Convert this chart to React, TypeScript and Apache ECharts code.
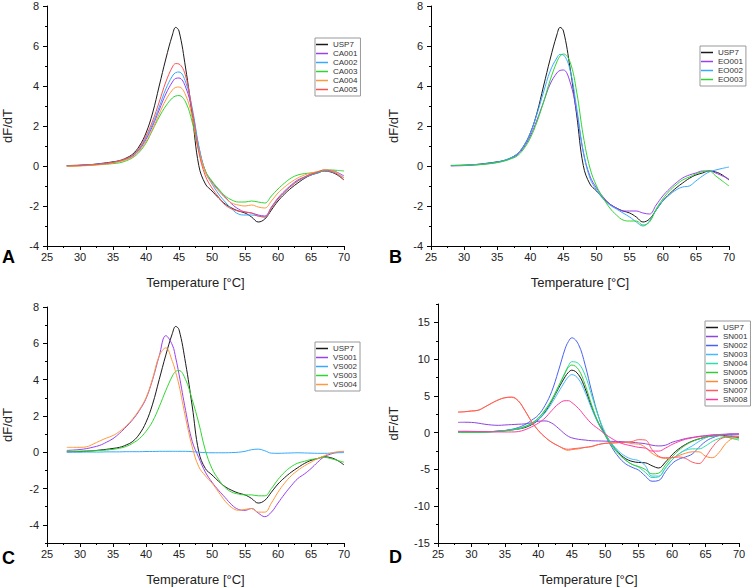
import React, { useEffect, useRef } from "react";
import * as echarts from "echarts";

// Temperatures (°C) shared by every curve
const TEMPS = [28, 29, 30, 31, 32, 33, 34, 35, 36, 37, 38, 39, 40, 41, 42, 43, 44, 44.5, 45, 46, 47, 48, 49, 50, 51, 52, 53, 54, 55, 56, 57, 58, 59, 60, 61, 62, 63, 64, 65, 66, 67, 68, 69, 70];

// Panel A/B/C reference
const USP7 = [0.02, 0.03, 0.04, 0.06, 0.08, 0.12, 0.16, 0.21, 0.27, 0.4, 0.6, 1.0, 1.65, 2.65, 4.0, 5.35, 6.55, 6.93, 6.75, 4.9, 2.55, 0.02, -0.9, -1.25, -1.6, -1.9, -2.1, -2.25, -2.35, -2.55, -2.8, -2.65, -2.2, -1.75, -1.4, -1.1, -0.85, -0.62, -0.45, -0.35, -0.25, -0.3, -0.45, -0.7];

// Panel A
const CA001 = [0.02, 0.02, 0.03, 0.05, 0.07, 0.1, 0.13, 0.18, 0.24, 0.34, 0.5, 0.82, 1.33, 2.0, 2.8, 3.6, 4.2, 4.38, 4.4, 3.95, 2.75, 0.95, -0.25, -0.8, -1.2, -1.55, -1.9, -2.15, -2.3, -2.35, -2.45, -2.5, -2.05, -1.6, -1.25, -0.95, -0.7, -0.55, -0.4, -0.3, -0.22, -0.22, -0.32, -0.5];
const CA002 = [0.02, 0.02, 0.03, 0.05, 0.07, 0.1, 0.13, 0.18, 0.25, 0.35, 0.52, 0.85, 1.4, 2.1, 2.95, 3.85, 4.5, 4.67, 4.7, 4.2, 2.9, 1.0, -0.3, -0.9, -1.4, -1.8, -2.15, -2.4, -2.45, -2.45, -2.5, -2.55, -2.1, -1.65, -1.3, -1.0, -0.75, -0.58, -0.45, -0.35, -0.25, -0.28, -0.4, -0.6];
const CA003 = [0.0, 0.01, 0.02, 0.03, 0.05, 0.07, 0.09, 0.12, 0.16, 0.26, 0.42, 0.7, 1.15, 1.8, 2.45, 3.0, 3.4, 3.5, 3.52, 3.2, 2.2, 0.75, -0.25, -0.75, -1.15, -1.5, -1.7, -1.8, -1.8, -1.75, -1.8, -1.85, -1.5, -1.15, -0.85, -0.6, -0.45, -0.38, -0.35, -0.3, -0.22, -0.2, -0.22, -0.25];
const CA004 = [-0.02, -0.01, 0.0, 0.02, 0.04, 0.07, 0.1, 0.15, 0.22, 0.31, 0.45, 0.75, 1.22, 1.85, 2.6, 3.3, 3.8, 3.93, 3.95, 3.55, 2.45, 0.8, -0.3, -0.85, -1.25, -1.6, -1.85, -1.95, -2.0, -1.95, -2.05, -2.1, -1.75, -1.35, -1.05, -0.8, -0.6, -0.45, -0.35, -0.28, -0.2, -0.22, -0.35, -0.6];
const CA005 = [0.0, 0.01, 0.02, 0.04, 0.06, 0.09, 0.13, 0.18, 0.26, 0.37, 0.55, 0.9, 1.5, 2.25, 3.2, 4.2, 4.95, 5.12, 5.1, 4.5, 2.75, 0.7, -0.5, -1.1, -1.55, -1.95, -2.15, -2.25, -2.3, -2.35, -2.5, -2.55, -2.1, -1.65, -1.3, -1.0, -0.75, -0.55, -0.42, -0.3, -0.2, -0.25, -0.42, -0.7];

// Panel B
const EO001 = [0.0, 0.01, 0.02, 0.04, 0.06, 0.09, 0.13, 0.18, 0.26, 0.37, 0.55, 0.92, 1.5, 2.3, 3.2, 4.1, 4.65, 4.78, 4.8, 4.2, 2.7, 0.7, -0.5, -1.1, -1.55, -1.9, -2.1, -2.25, -2.25, -2.25, -2.35, -2.4, -1.95, -1.5, -1.15, -0.85, -0.6, -0.45, -0.35, -0.25, -0.25, -0.35, -0.5, -0.65];
const EO002 = [0.03, 0.03, 0.04, 0.06, 0.08, 0.11, 0.15, 0.2, 0.28, 0.4, 0.6, 1.0, 1.65, 2.6, 3.7, 4.75, 5.4, 5.58, 5.55, 4.8, 2.9, 0.7, -0.6, -1.2, -1.65, -1.95, -2.15, -2.35, -2.55, -2.8, -3.0, -2.75, -2.2, -1.75, -1.45, -1.2, -1.05, -1.0, -0.75, -0.5, -0.3, -0.2, -0.12, -0.05];
const EO003 = [0.03, 0.03, 0.03, 0.05, 0.06, 0.09, 0.12, 0.17, 0.24, 0.35, 0.5, 0.85, 1.4, 2.2, 3.2, 4.3, 5.2, 5.5, 5.6, 5.2, 3.7, 1.5, -0.1, -1.0, -1.6, -2.1, -2.45, -2.7, -2.75, -2.75, -2.95, -2.8, -2.15, -1.65, -1.25, -0.95, -0.7, -0.55, -0.4, -0.28, -0.25, -0.5, -0.75, -1.0];

// Panel C
const VS001 = [0.1, 0.12, 0.15, 0.2, 0.28, 0.38, 0.55, 0.75, 1.05, 1.4, 1.8, 2.3, 2.95, 4.0, 5.3, 6.42, 5.9, 5.2, 4.3, 2.3, 0.6, -0.3, -1.1, -1.65, -2.1, -2.5, -2.9, -3.15, -3.2, -3.1, -3.35, -3.55, -3.3, -2.8, -2.3, -1.85, -1.45, -1.2, -0.9, -0.55, -0.25, -0.1, 0.0, 0.02];
const VS002 = [0.0, 0.0, 0.0, 0.01, 0.01, 0.01, 0.02, 0.02, 0.02, 0.03, 0.03, 0.03, 0.04, 0.04, 0.05, 0.05, 0.05, 0.05, 0.05, 0.05, 0.03, 0.0, -0.02, -0.03, -0.03, -0.03, -0.02, 0.0, 0.05, 0.14, 0.17, 0.08, -0.05, -0.06, -0.05, -0.04, -0.03, -0.04, -0.05, -0.06, -0.06, -0.05, -0.03, -0.02];
const VS003 = [0.05, 0.05, 0.06, 0.07, 0.08, 0.1, 0.12, 0.16, 0.22, 0.32, 0.5, 0.75, 1.15, 1.7, 2.5, 3.4, 4.2, 4.45, 4.5, 4.0, 2.9, 1.6, 0.1, -0.9, -1.5, -1.95, -2.2, -2.3, -2.35, -2.35, -2.4, -2.4, -2.0, -1.5, -1.1, -0.8, -0.6, -0.5, -0.4, -0.35, -0.28, -0.35, -0.45, -0.55];
const VS004 = [0.27, 0.27, 0.27, 0.3, 0.45, 0.62, 0.78, 0.92, 1.15, 1.45, 1.85, 2.35, 3.0, 4.05, 5.3, 5.75, 5.0, 4.4, 3.7, 1.9, 0.3, -0.8, -1.3, -1.7, -2.2, -2.7, -3.05, -3.2, -3.15, -3.1, -3.3, -3.3, -2.8, -2.2, -1.7, -1.3, -1.0, -0.75, -0.55, -0.35, -0.2, -0.05, 0.02, 0.05];

// Panel D
const USP7_D = [0.1, 0.1, 0.1, 0.1, 0.12, 0.15, 0.2, 0.28, 0.4, 0.5, 0.7, 1.1, 1.75, 2.8, 4.3, 6.0, 7.6, 8.2, 8.5, 7.9, 6.0, 3.4, 1.3, -0.2, -1.6, -2.7, -3.5, -3.9, -4.05, -4.1, -4.5, -4.8, -4.0, -3.0, -2.2, -1.6, -1.15, -0.85, -0.6, -0.45, -0.35, -0.4, -0.55, -0.7];
const SN001 = [1.4, 1.42, 1.4, 1.3, 1.15, 1.05, 1.0, 1.05, 1.1, 1.15, 1.2, 1.35, 1.55, 1.6, 1.3, 0.6, -0.2, -0.5, -0.7, -0.9, -1.0, -1.1, -1.12, -1.15, -1.18, -1.2, -1.25, -1.3, -1.4, -1.5, -1.7, -1.8, -1.7, -1.3, -1.05, -0.8, -0.65, -0.5, -0.4, -0.3, -0.25, -0.2, -0.17, -0.15];
const SN002 = [0.1, 0.1, 0.1, 0.1, 0.12, 0.15, 0.22, 0.3, 0.45, 0.7, 1.1, 1.7, 2.4, 3.7, 5.6, 8.4, 11.4, 12.4, 12.9, 12.0, 9.2, 5.5, 2.2, -0.3, -2.0, -3.3, -4.2, -4.7, -5.1, -5.9, -6.6, -6.5, -5.3, -4.2, -3.6, -3.3, -2.9, -2.0, -1.2, -0.7, -0.4, -0.25, -0.2, -0.2];
const SN003 = [0.1, 0.1, 0.1, 0.1, 0.12, 0.15, 0.2, 0.27, 0.4, 0.55, 0.8, 1.2, 1.8, 2.7, 4.0, 5.5, 7.0, 7.6, 7.9, 7.3, 5.5, 3.2, 1.2, -0.3, -1.5, -2.5, -3.2, -3.6, -3.8, -4.5, -5.9, -5.9, -4.8, -3.7, -2.9, -2.3, -1.8, -1.2, -0.7, -0.4, -0.3, -0.3, -0.4, -0.5];
const SN004 = [0.05, 0.05, 0.06, 0.07, 0.09, 0.12, 0.17, 0.25, 0.35, 0.5, 0.8, 1.25, 1.95, 3.0, 4.4, 6.2, 8.2, 9.1, 9.65, 9.4, 7.8, 5.0, 2.2, 0.0, -1.6, -2.8, -3.7, -4.3, -4.7, -5.4, -6.1, -6.0, -4.8, -3.7, -2.9, -2.4, -2.2, -2.2, -1.8, -1.2, -0.8, -0.6, -0.7, -0.8];
const SN005 = [0.05, 0.05, 0.06, 0.07, 0.09, 0.12, 0.17, 0.26, 0.38, 0.55, 0.85, 1.3, 2.0, 3.1, 4.5, 6.3, 8.1, 8.9, 9.2, 8.6, 6.5, 3.7, 1.3, -0.4, -1.8, -2.9, -3.7, -4.3, -4.6, -5.0, -5.6, -5.5, -4.4, -3.3, -2.4, -1.7, -1.2, -0.85, -0.6, -0.45, -0.4, -0.55, -0.8, -1.0];
const SN006 = [2.8, 2.85, 2.95, 3.05, 3.5, 4.0, 4.45, 4.75, 4.8, 4.3, 3.0, 1.5, 0.3, -0.6, -1.3, -1.8, -2.3, -2.4, -2.3, -2.2, -2.0, -1.9, -1.6, -1.45, -1.4, -1.35, -1.3, -1.5, -1.55, -2.0, -2.8, -3.3, -3.5, -3.4, -3.1, -2.8, -2.6, -2.6, -3.2, -3.4, -2.7, -1.5, -0.8, -0.5];
const SN007 = [2.8, 2.85, 2.95, 3.05, 3.5, 4.0, 4.45, 4.75, 4.85, 4.35, 3.0, 1.5, 0.3, -0.6, -1.3, -1.8, -2.2, -2.25, -2.2, -2.1, -2.0, -1.85, -1.6, -1.45, -1.4, -1.35, -1.3, -1.2, -0.95, -1.0, -2.3, -3.2, -3.4, -3.4, -3.3, -3.5, -4.0, -4.2, -3.3, -2.0, -1.0, -0.6, -0.5, -0.5];
const SN008 = [0.2, 0.2, 0.18, 0.16, 0.15, 0.12, 0.1, 0.1, 0.1, 0.15, 0.4, 0.8, 1.3, 2.0, 3.0, 3.9, 4.35, 4.35, 4.1, 3.3, 2.2, 1.2, 0.5, -0.2, -0.8, -1.3, -1.6, -1.8, -2.0, -2.1, -2.5, -2.5, -2.1, -1.6, -1.2, -0.9, -0.7, -0.55, -0.45, -0.35, -0.3, -0.25, -0.2, -0.2];

const X_TICKS = [25, 30, 35, 40, 45, 50, 55, 60, 65, 70];
const Y_LABELS_C = [-4, -2, 0, 2, 4, 6, 8];
const Y_LABELS_D = [-15, -10, -5, 0, 5, 10, 15];

const FONT = "Liberation Sans, Arial, Helvetica, sans-serif";
const BLACK = "#1a1a1a";
const PURPLE = "#9a40f0";
const SKY = "#35aaff";
const GREEN = "#2fd62f";
const ORANGE = "#ff9a3c";
const RED = "#ff5050";

const PANELS = [
  { letter: "A", series: [["USP7", USP7, BLACK], ["CA001", CA001, PURPLE], ["CA002", CA002, SKY], ["CA003", CA003, GREEN], ["CA004", CA004, ORANGE], ["CA005", CA005, RED]] },
  { letter: "B", series: [["USP7", USP7, BLACK], ["EO001", EO001, PURPLE], ["EO002", EO002, SKY], ["EO003", EO003, GREEN]] },
  { letter: "C", series: [["USP7", USP7, BLACK], ["VS001", VS001, PURPLE], ["VS002", VS002, SKY], ["VS003", VS003, GREEN], ["VS004", VS004, ORANGE]] },
  { letter: "D", series: [["USP7", USP7_D, BLACK], ["SN001", SN001, "#8e44e0"], ["SN002", SN002, "#4a62f0"], ["SN003", SN003, "#45b8ff"], ["SN004", SN004, "#30dca8"], ["SN005", SN005, "#34cc34"], ["SN006", SN006, "#ff8a36"], ["SN007", SN007, "#ff5a66"], ["SN008", SN008, "#ff3a9e"]] },
];

const GRIDS = [
  { left: 47, top: 6, width: 297, height: 240 },
  { left: 431, top: 6, width: 298, height: 240 },
  { left: 47, top: 307, width: 297, height: 240 },
  { left: 438, top: 304, width: 301, height: 243 },
];
const LEGEND_POS = [
  { left: 315, top: 38 },
  { left: 700, top: 46 },
  { left: 315, top: 342 },
  { left: 705, top: 321 },
];
const LETTER_POS = [
  { x: 2, y: 257 },
  { x: 389, y: 257 },
  { x: 2, y: 558 },
  { x: 389, y: 557 },
];
const YNAME_GAP = [33, 31, 33, 38];

export default function App() {
  const ref = useRef<HTMLDivElement>(null);
  useEffect(() => {
    if (!ref.current) return;
    const chart = echarts.init(ref.current, undefined, { renderer: "svg" });
    const axisLine = { show: true, onZero: false, lineStyle: { color: "#000", width: 1 } };
    const label = { fontSize: 11, color: "#222", fontFamily: FONT };
    const xAxis: any[] = GRIDS.map((_, i) => ({
      type: "value", gridIndex: i, min: 25, max: 70, interval: 5,
      axisLine, axisTick: { show: true, length: 4, lineStyle: { color: "#000" } },
      minorTick: { show: true, splitNumber: 2, length: 2, lineStyle: { color: "#000" } },
      splitLine: { show: false }, minorSplitLine: { show: false },
      axisLabel: { ...label, margin: 5, customValues: X_TICKS },
      name: "Temperature [°C]", nameLocation: "middle", nameGap: 30,
      nameTextStyle: { fontSize: 13, color: "#222", fontFamily: FONT },
    }));
    const yBase = (i: number) => ({
      type: "value", gridIndex: i, position: "left", axisLine,
      splitLine: { show: false }, minorSplitLine: { show: false },
      name: "dF/dT", nameLocation: "middle", nameGap: YNAME_GAP[i],
      nameTextStyle: { fontSize: 13, color: "#222", fontFamily: FONT },
    });
    const minorY = (i: number, min: number, max: number, interval: number) => ({
      type: "value", gridIndex: i, position: "left", offset: 0, min, max, interval,
      axisLine: { show: false }, axisTick: { show: true, length: 2, lineStyle: { color: "#000" } },
      axisLabel: { show: false }, splitLine: { show: false },
    });
    const yAxis: any[] = [
      { ...yBase(0), min: -4, max: 8, interval: 2, axisTick: { length: 4, lineStyle: { color: "#000" } }, minorTick: { show: true, splitNumber: 2, length: 2, lineStyle: { color: "#000" } }, axisLabel: { ...label, margin: 8 } },
      { ...yBase(1), min: -4, max: 8, interval: 2, axisTick: { length: 4, lineStyle: { color: "#000" } }, minorTick: { show: true, splitNumber: 2, length: 2, lineStyle: { color: "#000" } }, axisLabel: { ...label, margin: 8 } },
      { ...yBase(2), min: -5, max: 8, interval: 1, axisTick: { length: 4, customValues: Y_LABELS_C, lineStyle: { color: "#000" } }, axisLabel: { ...label, margin: 8, customValues: Y_LABELS_C } },
      { ...yBase(3), min: -15, max: 17.5, interval: 2.5, axisTick: { length: 4, customValues: Y_LABELS_D, lineStyle: { color: "#000" } }, axisLabel: { ...label, margin: 8, customValues: Y_LABELS_D } },
      minorY(2, -5, 8, 1),
      minorY(3, -15, 17.5, 2.5),
    ];
    const series: any[] = [];
    PANELS.forEach((p, i) => {
      p.series.forEach(([name, vals, color]: any) => {
        series.push({
          type: "line", name, xAxisIndex: i, yAxisIndex: i,
          data: TEMPS.map((t, k) => [t, vals[k]]),
          showSymbol: false, smooth: 0.4,
          color, lineStyle: { width: 1, color },
          emphasis: { disabled: true },
        });
      });
    });
    const legend = PANELS.map((p, i) => ({
      ...LEGEND_POS[i], orient: "vertical",
      data: p.series.map((s: any) => s[0]),
      icon: "rect", itemWidth: 12, itemHeight: 1.5, itemGap: 0,
      padding: [2, 3, 2, 1], borderColor: "#999", borderWidth: 1,
      textStyle: { fontSize: 8, lineHeight: 9, color: "#333", fontFamily: FONT },
      selectedMode: false,
    }));
    chart.setOption({
      animation: false,
      textStyle: { fontFamily: FONT },
      grid: GRIDS.map((g) => ({ ...g, containLabel: false })),
      xAxis, yAxis, series, legend,
      graphic: PANELS.map((p, i) => ({
        type: "text", x: LETTER_POS[i].x, y: LETTER_POS[i].y,
        style: { text: p.letter, fontSize: 18, fontWeight: "bold", fill: "#000", font: `bold 18px ${FONT}`, textVerticalAlign: "middle" },
      })),
    });
    return () => chart.dispose();
  }, []);
  return <div ref={ref} style={{ position: "absolute", left: 0, top: 0, width: 752, height: 587 }} />;
}
